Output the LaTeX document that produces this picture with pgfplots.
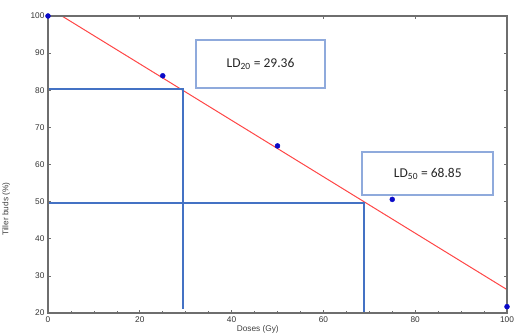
\documentclass[border=0pt]{standalone}
\usepackage{pgfplots}
\pgfplotsset{compat=1.18}
\usepackage{fontspec}
\setmainfont{Liberation Sans}
\newfontfamily\carlito{Carlito}
\definecolor{axgray}{RGB}{110,110,110}
\definecolor{lblue}{RGB}{68,114,196}
\definecolor{boxblue}{RGB}{143,170,220}
\definecolor{dotblue}{RGB}{10,10,200}
\definecolor{lred}{RGB}{255,70,70}
\begin{document}
\begin{tikzpicture}
\begin{axis}[
  scale only axis,
  width=459pt, height=297pt,
  xmin=0, xmax=100, ymin=20, ymax=100,
  xtick={0,20,...,100}, ytick={20,30,...,100},
  minor x tick num=3, minor y tick num=4,
  tick align=inside,
  major tick length=3pt, minor tick length=1.5pt,
  axis line style={axgray, line width=1.8pt},
  every tick/.style={axgray, line width=0.7pt},
  tick label style={font=\fontsize{8.3}{9}\selectfont, text=black!80},
  /pgf/number format/assume math mode=true,
  xlabel={Doses (Gy)},
  ylabel={Tiller buds (\%)},
  label style={font=\fontsize{8.3}{9}\selectfont, text=black!75},
  xlabel style={at={(axis description cs:0.457,-0.042)}, anchor=north, inner sep=0pt},
  ylabel style={at={(axis description cs:-0.075,0.35)}, anchor=south},
  clip=false,
  axis on top,
]
% fitted line
\addplot[lred, line width=1pt] coordinates {(3.03,100) (100,26.3)};
% LD20 guide lines
\addplot[lblue, line width=1.6pt] coordinates {(0,80.3) (29.36,80.3) (29.36,21)};
% LD50 guide lines
\addplot[lblue, line width=1.6pt] coordinates {(0,49.7) (68.85,49.7) (68.85,20)};
% observed points
\addplot[only marks, mark=*, mark size=2.5pt, dotblue] coordinates {
  (0,100) (25,83.9) (50,65) (75,50.6) (100,21.7)};
% boxes
\draw[boxblue, line width=2pt, fill=white] (axis cs:32.2,80.6) rectangle (axis cs:60.4,93.5);
\node[font=\carlito\fontsize{13.5}{15}\selectfont, text=black!85] at (axis cs:46.3,87.05) {LD\textsubscript{20} = 29.36};
\draw[boxblue, line width=2pt, fill=white] (axis cs:68.5,51.8) rectangle (axis cs:97,63.3);
\node[font=\carlito\fontsize{13.5}{15}\selectfont, text=black!85] at (axis cs:82.75,57.55) {LD\textsubscript{50} = 68.85};
\end{axis}
\pgfresetboundingbox
\path (-48pt,-23pt) rectangle (466pt,313pt);
\end{tikzpicture}
\end{document}
